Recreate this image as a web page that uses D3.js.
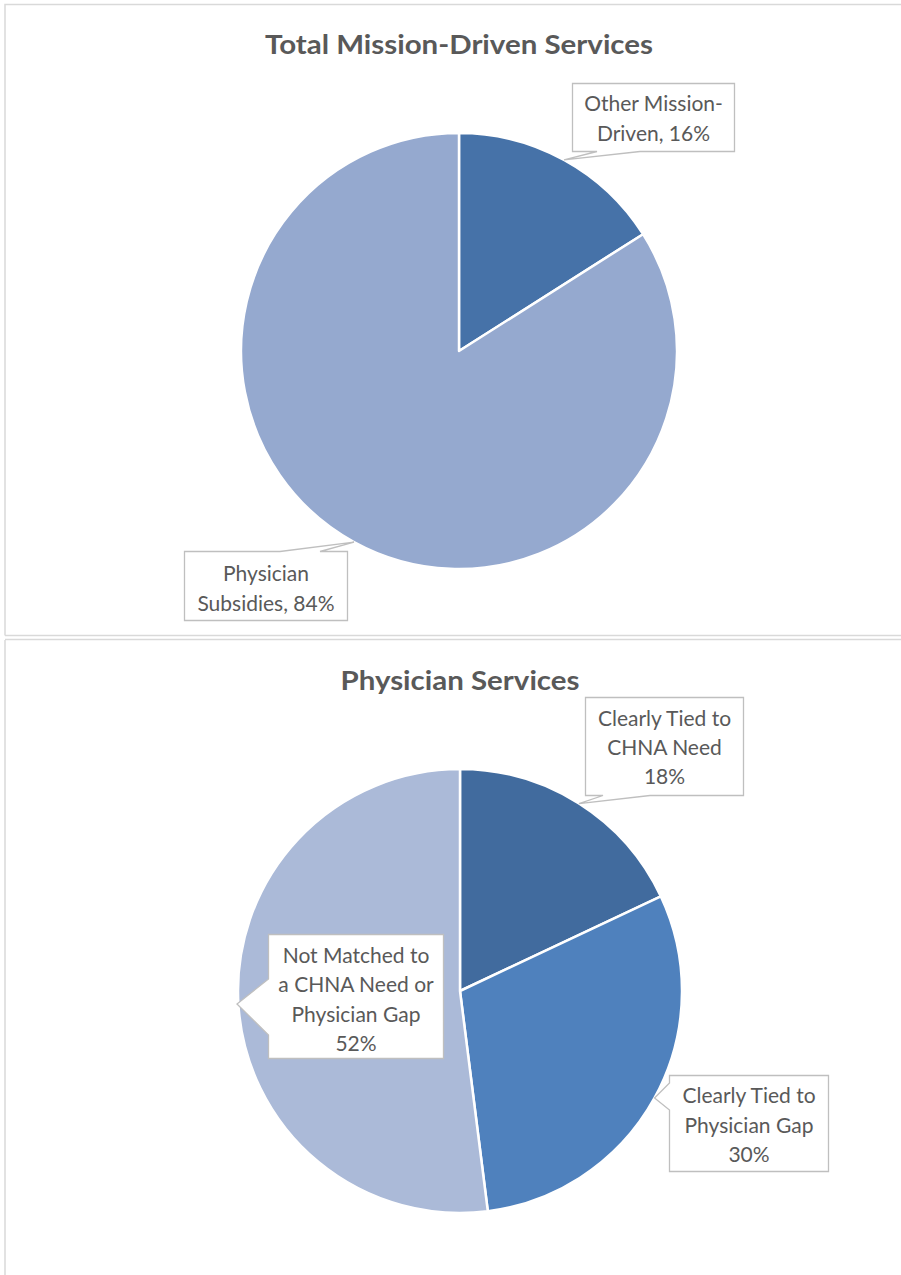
<!DOCTYPE html>
<html><head><meta charset="utf-8">
<script src="https://cdn.jsdelivr.net/npm/d3@7"></script>
<style>
html,body{margin:0;padding:0;background:#fff;}
svg{display:block;}
</style></head>
<body>
<svg id="chart" width="901" height="1275"></svg>
<script>
// ---- data ----
const chart1Title = "Total Mission-Driven Services";
const chart1Categories = ["Other Mission-Driven", "Physician Subsidies"];
const chart1Values = [16, 84];
const chart1LabelLines = [["Other Mission-", "Driven, 16%"], ["Physician", "Subsidies, 84%"]];

const chart2Title = "Physician Services";
const chart2Categories = ["Clearly Tied to CHNA Need", "Clearly Tied to Physician Gap", "Not Matched to a CHNA Need or Physician Gap"];
const chart2Values = [18, 30, 52];
const chart2LabelLines = [["Clearly Tied to", "CHNA Need", "18%"], ["Clearly Tied to", "Physician Gap", "30%"], ["Not Matched to", "a CHNA Need or", "Physician Gap", "52%"]];

// ---- styles ----
const chart1Colors = ["#4672a8", "#95a9cf"];
const chart2Colors = ["#416b9e", "#4f81bd", "#abbad8"];
const textColor = "#595959";
const font = "Lato, 'Open Sans', sans-serif";

const svg = d3.select("#chart");

// panel borders
svg.append("path").attr("d", "M5,640 V1275 M5,635.5 V4.5 H901 M5,635.5 H901 M5,639.5 H901")
  .attr("fill", "none").attr("stroke", "#d9d9d9").attr("stroke-width", 1.5);

function calloutPath(b, side, p0, p1, tip) {
  const [x0, y0, x1, y1] = b;
  let d;
  if (side === "bottom") {
    d = `M${x0},${y0}H${x1}V${y1}H${p1}L${tip[0]},${tip[1]}L${p0},${y1}H${x0}Z`;
  } else if (side === "top") {
    d = `M${x0},${y0}H${p0}L${tip[0]},${tip[1]}L${p1},${y0}H${x1}V${y1}H${x0}Z`;
  } else { // left
    d = `M${x0},${y0}H${x1}V${y1}H${x0}V${p1}L${tip[0]},${tip[1]}L${x0},${p0}Z`;
  }
  return d;
}

function drawPie(cfg) {
  const g = svg.append("g");
  const pie = d3.pie().sort(null).value(d => d)(cfg.values);
  const arc = d3.arc().innerRadius(0).outerRadius(cfg.r);
  const cg = g.append("g").attr("transform", `translate(${cfg.cx},${cfg.cy})`);
  cg.selectAll("path").data(pie).join("path")
    .attr("d", arc)
    .attr("fill", (d, i) => cfg.colors[i])
    .attr("stroke", "#fff").attr("stroke-width", 2.5).attr("stroke-linejoin", "round");

  g.append("text").attr("x", cfg.titleX).attr("y", cfg.titleY)
    .attr("text-anchor", "middle").attr("font-family", font).attr("font-weight", "bold")
    .attr("font-size", 26).attr("fill", textColor)
    .attr("textLength", cfg.titleLen).attr("lengthAdjust", "spacingAndGlyphs")
    .text(cfg.title);

  cfg.labels.forEach((L, i) => {
    const a = (pie[i].startAngle + pie[i].endAngle) / 2;
    const tip = L.tip || [cfg.cx + cfg.r * Math.sin(a), cfg.cy - cfg.r * Math.cos(a)];
    g.append("path").attr("d", calloutPath(L.box, L.side, L.p0, L.p1, tip))
      .attr("fill", "#fff").attr("stroke", "#bfbfbf").attr("stroke-width", 1.3);
    const cx = (L.box[0] + L.box[2]) / 2;
    cfg.lines[i].forEach((t, j) => {
      g.append("text").attr("x", cx).attr("y", L.y0 + j * L.dy)
        .attr("text-anchor", "middle").attr("font-family", font)
        .attr("font-size", 21).attr("fill", textColor).text(t);
    });
  });
}

drawPie({
  cx: 459, cy: 351, r: 218, values: chart1Values, colors: chart1Colors,
  title: chart1Title, titleX: 459, titleY: 54, titleLen: 388,
  lines: chart1LabelLines,
  labels: [
    {box: [572.5, 83.5, 734.5, 151.5], side: "bottom", p0: 597, p1: 640, y0: 111, dy: 30},
    {box: [184.5, 551.5, 347.5, 620.5], side: "top", p0: 280, p1: 320, y0: 581, dy: 30}
  ]
});

drawPie({
  cx: 460, cy: 991, r: 222, values: chart2Values, colors: chart2Colors,
  title: chart2Title, titleX: 460, titleY: 690, titleLen: 239,
  lines: chart2LabelLines,
  labels: [
    {box: [585.5, 697.5, 743.5, 795.5], side: "bottom", p0: 603, p1: 650, y0: 726, dy: 29},
    {box: [669.5, 1075.5, 828.5, 1171.5], side: "left", p0: 1083, p1: 1110, y0: 1103, dy: 29.5},
    {box: [268.5, 934.5, 443.5, 1058.5], side: "left", p0: 979, p1: 1035, y0: 963, dy: 29.3, tip: [237, 1004]}
  ]
});
</script>
</body></html>
